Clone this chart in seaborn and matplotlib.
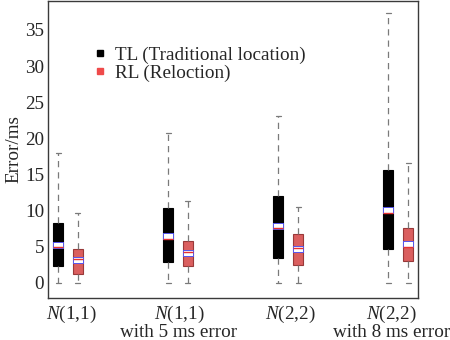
import numpy as np
import pandas as pd
import matplotlib
matplotlib.use("Agg")
import matplotlib.pyplot as plt
import seaborn as sns
from matplotlib.path import Path
from matplotlib.lines import Line2D
from matplotlib.colors import to_rgb
from matplotlib.transforms import ScaledTranslation

sns.set_theme(style="white")
plt.rcParams["font.family"] = ["Liberation Serif", "DejaVu Serif"]
plt.rcParams["mathtext.fontset"] = "custom"
plt.rcParams["mathtext.rm"] = "Liberation Serif"
plt.rcParams["mathtext.it"] = "Liberation Serif:italic"

# Test cases and location methods
categories = ["$N$(1,1)", "$N$(1,1)\nwith 5 ms error",
              "$N$(2,2)", "$N$(2,2)\nwith 8 ms error"]
methods = ["TL (Traditional location)", "RL (Reloction)"]
colors = ["#000000", "#ef4a4a"]

# Five-number summaries (ms) and means for each method
tl_min = [0.0, 0.0, 0.0, 0.0]
tl_q1 = [2.35, 2.8, 3.45, 4.6]
tl_med = [5.0, 6.0, 7.6, 9.7]
tl_q3 = [8.2, 10.4, 12.0, 15.6]
tl_max = [18.0, 20.7, 23.1, 37.3]
tl_mean = [5.25, 6.5, 7.85, 10.1]

rl_min = [0.0, 0.0, 0.0, 0.0]
rl_q1 = [1.25, 2.35, 2.5, 3.05]
rl_med = [3.3, 4.2, 4.8, 5.0]
rl_q3 = [4.7, 5.8, 6.8, 7.6]
rl_max = [9.7, 11.3, 10.5, 16.6]
rl_mean = [3.1, 4.15, 4.7, 5.4]

rows = []
mean_rows = []
for method, summ, means in [
    (methods[0], (tl_min, tl_q1, tl_med, tl_q3, tl_max), tl_mean),
    (methods[1], (rl_min, rl_q1, rl_med, rl_q3, rl_max), rl_mean),
]:
    for i, cat in enumerate(categories):
        for s in summ:
            rows.append({"case": cat, "method": method, "error": s[i]})
        mean_rows.append({"case": cat, "method": method, "mean": means[i]})
df = pd.DataFrame(rows)
mdf = pd.DataFrame(mean_rows)

FS = 13.8

fig = plt.figure(figsize=(4.5, 3.4), dpi=100)
ax = fig.add_axes([0.107, 0.124, 0.822, 0.873])

sns.boxplot(
    data=df, x="case", y="error", hue="method",
    order=categories, hue_order=methods, palette=colors,
    width=0.36, gap=0.5, whis=(0, 100), showfliers=False,
    linewidth=0.8, linecolor="#7a7a7a",
    medianprops=dict(color="#e83030", linewidth=1.0, zorder=6),
    whiskerprops=dict(color="#7a7a7a", linestyle=(0, (5, 4)), linewidth=0.9),
    capprops=dict(color="#7a7a7a", linewidth=0.9),
    legend=False, ax=ax,
)

# darker outline for each filled box
for p in ax.patches:
    r, g, b = to_rgb(p.get_facecolor())
    p.set_edgecolor((r * 0.7, g * 0.6, b * 0.6))

# mean markers as wide white rectangles
rect = Path([(-1, -0.6), (1, -0.6), (1, 0.6), (-1, 0.6), (-1, -0.6)],
            [Path.MOVETO, Path.LINETO, Path.LINETO, Path.LINETO, Path.CLOSEPOLY])
sns.pointplot(
    data=mdf, x="case", y="mean", hue="method",
    order=categories, hue_order=methods, palette=["white", "white"],
    markers=[rect, rect], linestyles="none", dodge=0.18, errorbar=None,
    markersize=7.4, markeredgecolor="#5555ee", markeredgewidth=0.7,
    markerfacecolor="white", zorder=5, legend=False, ax=ax,
)

ax.set_xlim(-0.18, 3.18)
ax.set_ylim(-2.1, 39)
ax.set_yticks(np.arange(0, 36, 5))
ax.set_xlabel("")
ax.set_ylabel("Error/ms", fontsize=FS, labelpad=2)
ax.tick_params(axis="y", direction="in", length=3, width=0.8,
               labelsize=FS, pad=3, color="#333333")
ax.tick_params(axis="x", length=0, labelsize=FS, pad=4)

# nudge the outer category labels so the last one stays inside the figure
shifts_px = [3, 1, 2, -7]
for lbl, dx in zip(ax.get_xticklabels(), shifts_px):
    lbl.set_linespacing(0.95)
    lbl.set_transform(lbl.get_transform()
                      + ScaledTranslation(dx / 100, 0, fig.dpi_scale_trans))

for s in ax.spines.values():
    s.set_color("#3a3a3a")
    s.set_linewidth(1.0)

handles = [Line2D([], [], marker="s", linestyle="none", color=c,
                  markersize=5) for c in colors]
ax.legend(handles, methods, loc="upper left", bbox_to_anchor=(0.077, 0.893),
          frameon=False, fontsize=FS, handletextpad=0.3,
          handlelength=1.0, labelspacing=0.05, borderpad=0.2)

fig.savefig("out.png", dpi=100)
